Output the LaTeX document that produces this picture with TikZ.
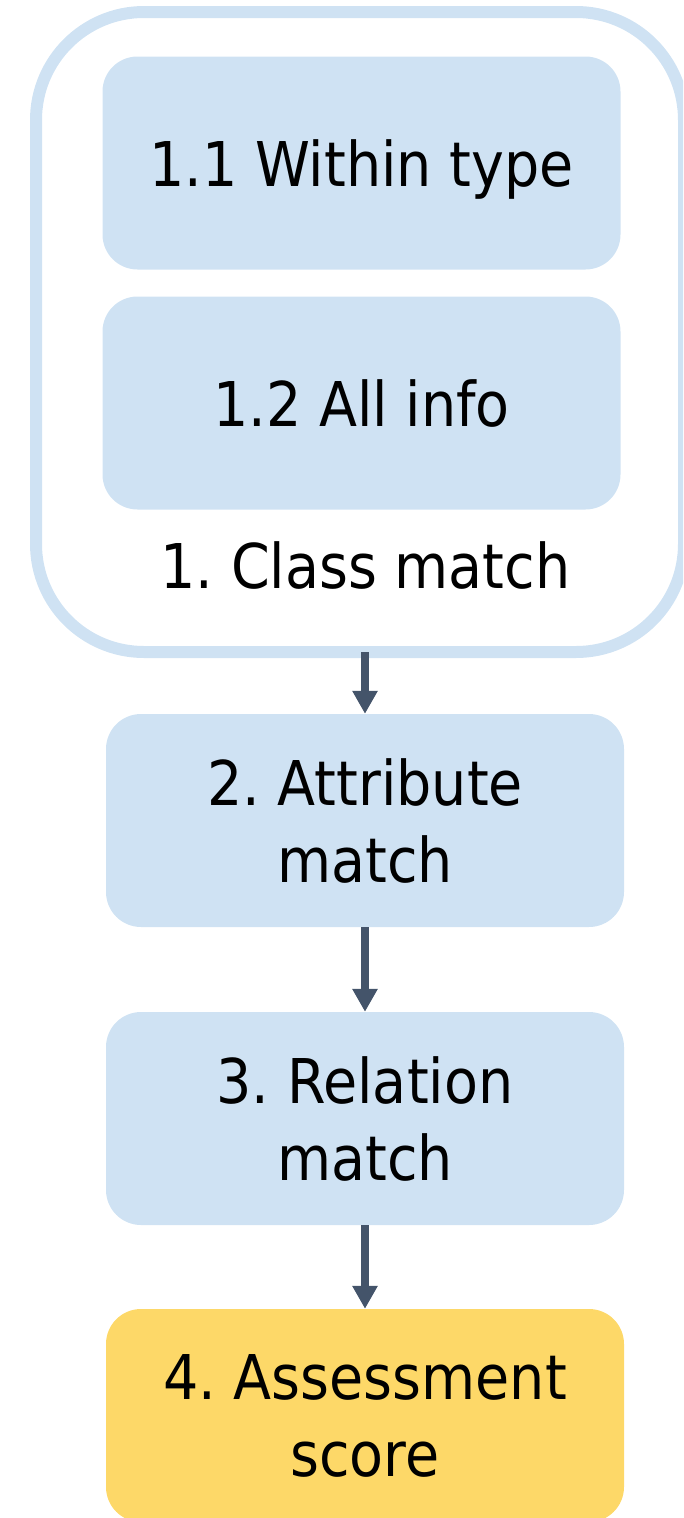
\documentclass[tikz,border=0pt]{standalone}
\usepackage{fontspec}
\setmainfont{DejaVu Sans}[FakeStretch=0.9]
\usetikzlibrary{arrows.meta}
\definecolor{paleblue}{HTML}{CFE2F3}
\definecolor{slate}{HTML}{44546A}
\definecolor{gold}{HTML}{FDD868}
\frenchspacing

\begin{document}
\begin{tikzpicture}[x=1pt,y=-1pt,
  bigtext/.style={font=\fontsize{61.7}{77}\selectfont},
  stage/.style={rectangle, rounded corners=35pt, fill=paleblue,
    minimum width=518pt, minimum height=213pt, inner sep=0pt,
    align=center, bigtext, text depth=0pt},
  flow/.style={draw=slate, line width=7.5pt,
    -{Triangle[width=24pt,length=23pt]}},
  group/.style={rectangle, draw=paleblue, line width=12pt,
    rounded corners=108pt, inner sep=0pt, outer sep=0pt}
]
\useasboundingbox (0,0) rectangle (683,1518);
\clip (0,0) rectangle (683,1518);

% container for the class-matching step
\node[group, minimum width=648pt, minimum height=640pt] (classgroup) at (360,332) {};
\node[stage] (within) at (361.5,163) {1.1 Within type};
\node[stage] (allinfo) at (361.5,403) {1.2 All info};
\node[bigtext, anchor=base] (classlabel) at (365.5,588) {1. Class match};

% main pipeline
\node[stage] (attr) at (365,820.5) {2. Attribute\\match};
\node[stage] (rel) at (365,1118.5) {3. Relation\\match};
\node[stage, fill=gold] (score) at (365,1415.5) {4. Assessment\\score};

\draw[flow] (attr.north |- classgroup.south) -- (attr.north);
\draw[flow] (attr.south) -- (rel.north);
\draw[flow] (rel.south) -- (score.north);
\end{tikzpicture}
\end{document}
